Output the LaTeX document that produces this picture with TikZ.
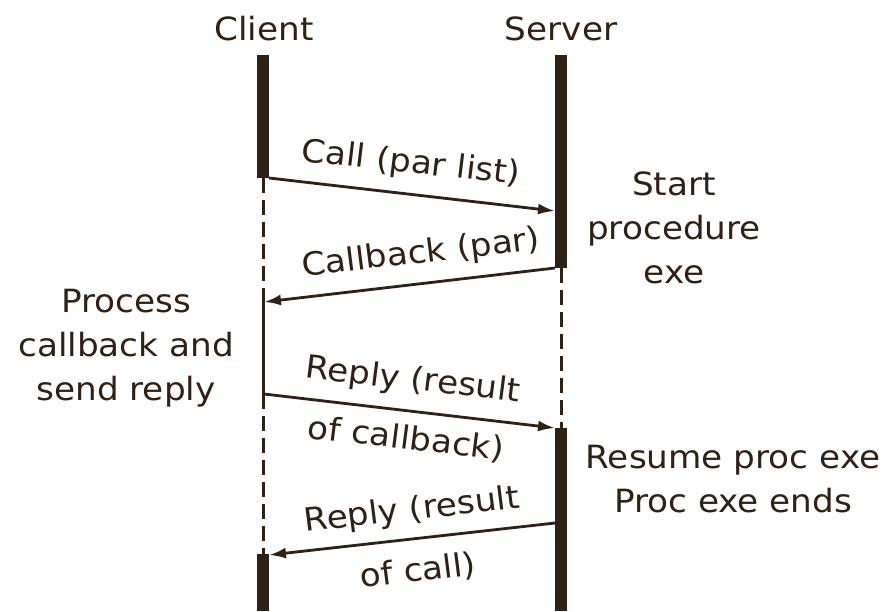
\documentclass[tikz,border=0pt]{standalone}
\usepackage{fontspec}
\setmainfont{DejaVu Sans}
\usetikzlibrary{arrows.meta}
\definecolor{ink}{HTML}{2E2118}
\tikzset{
  bar/.style={ink, line width=12.5pt, line cap=butt},
  life/.style={ink, line width=3pt},
  idle/.style={life, dash pattern=on 15pt off 7pt},
  msg/.style={ink, line width=2.8pt, -{Latex[length=17pt,width=11pt]}},
  txt/.style={text=ink, inner sep=0pt, font=\fontsize{32pt}{44pt}\selectfont, xscale=1.07, align=center},
}
\begin{document}
\begin{tikzpicture}[x=1pt, y=-1pt]
  \useasboundingbox[fill=white] (0,0) rectangle (892,611);

  % participants
  \node[txt] (client) at (264,29) {Client};
  \node[txt] (server) at (561,29) {Server};

  % client lifeline points
  \coordinate (c0) at (263,55);
  \coordinate (c1) at (263,178);
  \coordinate (c2) at (263,302);
  \coordinate (c3) at (263,394);
  \coordinate (c4) at (263,554);
  \coordinate (c5) at (263,611);
  % server lifeline points
  \coordinate (s0) at (561,55);
  \coordinate (s1) at (561,268);
  \coordinate (s2) at (561,428);
  \coordinate (s4) at (561,611);

  % lifelines
  \draw[bar] (c0) -- (c1);
  \draw[idle] (c1) -- (c2);
  \draw[life] (c2) -- (c3);
  \draw[idle] (c3) -- (c4);
  \draw[bar] (c4) -- (c5);
  \draw[bar] (s0) -- (s1);
  \draw[idle] (s1) -- (s2);
  \draw[bar] (s2) -- (s4);

  % message end points
  \coordinate (m1a) at (269,178);
  \coordinate (m1b) at (555,211);
  \coordinate (m2a) at (555,268);
  \coordinate (m2b) at (264,302);
  \coordinate (m3a) at (264,394);
  \coordinate (m3b) at (555,428);
  \coordinate (m4a) at (555,523);
  \coordinate (m4b) at (269,555);

  % messages
  \draw[msg] (m1a) -- (m1b);
  \draw[msg] (m2a) -- (m2b);
  \draw[msg] (m3a) -- (m3b);
  \draw[msg] (m4a) -- (m4b);

  % message labels
  \node[txt, rotate=-6.5] (l1) at (411,164) {Call (par list)};
  \node[txt, rotate=6.8] (l2) at (421,254) {Callback (par)};
  \node[txt, rotate=-6.8] (l3a) at (413,381) {Reply (result};
  \node[txt, rotate=-6.8] (l3b) at (406,439) {of callback)};
  \node[txt, rotate=6.8] (l4a) at (412,511) {Reply (result};
  \node[txt, rotate=6.8] (l4b) at (418,571) {of call)};

  % activity notes
  \node[txt] (start) at (674,228) {Start\\procedure\\exe};
  \node[txt] (process) at (126,348) {Process\\callback and\\send reply};
  \node[txt] (resume) at (733,479) {Resume proc exe\\Proc exe ends};
\end{tikzpicture}
\end{document}
